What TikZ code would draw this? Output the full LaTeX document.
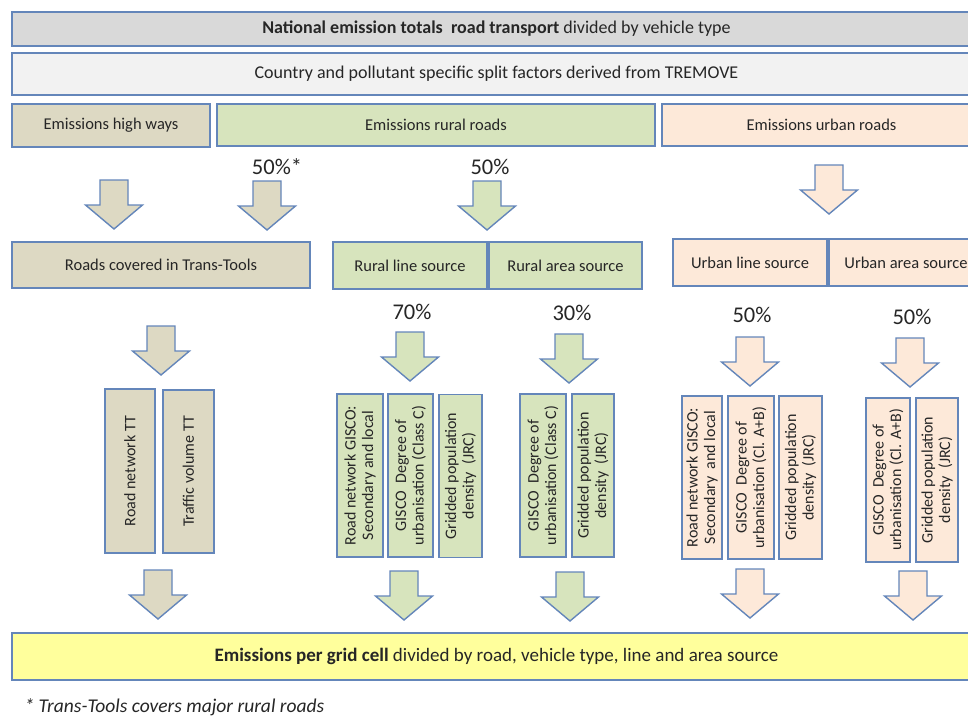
\documentclass[tikz,border=0pt]{standalone}
\usepackage{fontspec}
\setmainfont{Carlito}
\usetikzlibrary{backgrounds}
\definecolor{boxline}{HTML}{6486BA}
\definecolor{greybox}{HTML}{D9D9D9}
\definecolor{lightbox}{HTML}{F2F2F2}
\definecolor{tanbox}{HTML}{DDD9C3}
\definecolor{greenbox}{HTML}{D7E4BD}
\definecolor{peachbox}{HTML}{FDE9D9}
\definecolor{yellowbox}{HTML}{FFFF9C}
\tikzset{
    box/.style={draw=boxline, line width=1.4pt, inner sep=2pt, align=center, text=black!85, font=\fontsize{16.5}{19}\selectfont},
    widebox/.style={box, font=\fontsize{18}{21}\selectfont},
    vbox/.style={box, rotate=90, font=\fontsize{16}{17.5}\selectfont},
    pct/.style={text=black!85, font=\fontsize{22.5}{24}\selectfont}
}
% block arrow: fill colour, x of tip, y of top
\newcommand{\blockarrow}[3]{
    \filldraw[draw=boxline, line width=1.4pt, fill=#1] (#2-14,#3) -- (#2+14,#3) -- (#2+14,#3+25) -- (#2+28.5,#3+25)
        -- (#2,#3+49) -- (#2-28.5,#3+25) -- (#2-14,#3+25) -- cycle;
}

\begin{document}
\begin{tikzpicture}[x=1pt, y=-1pt]
    \useasboundingbox (0,0) rectangle (968,717);
    \clip (0,0) rectangle (968,717);
    \fill[white] (0,0) rectangle (968,717);

    % top rows
    \node[widebox, fill=greybox, minimum width=969, minimum height=34] (national) at (496.5,29)
        {\textbf{National emission totals\ \ road transport} divided by vehicle type};
    \node[widebox, fill=lightbox, minimum width=969, minimum height=42] (factors) at (496.5,74)
        {Country and pollutant specific split factors derived from TREMOVE};
    \node[box, fill=tanbox, minimum width=198, minimum height=43] (highways) at (111,125.5) {Emissions high ways};
    \node[box, fill=greenbox, minimum width=438, minimum height=42] (rural) at (436,125) {Emissions rural roads};
    \node[box, fill=peachbox, minimum width=319, minimum height=42] (urban) at (821.5,125) {Emissions urban roads};

    \node[pct] (pcthw) at (277,167) {50\%*};
    \node[pct] (pctrural) at (490,167) {50\%};
    \blockarrow{tanbox}{114}{180}
    \blockarrow{tanbox}{267}{181}
    \blockarrow{greenbox}{487}{181}
    \blockarrow{peachbox}{829}{165}

    % sources
    \node[box, fill=tanbox, minimum width=298, minimum height=46] (transtools) at (161,265) {Roads covered in Trans-Tools};
    \node[box, fill=greenbox, minimum width=154, minimum height=47] (ruralline) at (410,265.5) {Rural line source};
    \node[box, fill=greenbox, minimum width=153, minimum height=47] (ruralarea) at (565.5,265.5) {Rural area source};
    \node[box, fill=peachbox, minimum width=154, minimum height=47] (urbanline) at (750,262.5) {Urban line source};
    \node[box, fill=peachbox, minimum width=154, minimum height=47] (urbanarea) at (906,262.5) {Urban area source};

    \node[pct] (pctrl) at (412,312) {70\%};
    \node[pct] (pctra) at (572,313) {30\%};
    \node[pct] (pctul) at (752,315) {50\%};
    \node[pct] (pctua) at (912,317) {50\%};
    \blockarrow{tanbox}{161}{326}
    \blockarrow{greenbox}{410}{332}
    \blockarrow{greenbox}{569}{334}
    \blockarrow{peachbox}{750}{337}
    \blockarrow{peachbox}{910}{338}

    % proxies
    \node[vbox, fill=tanbox, minimum width=164, minimum height=50] (roadtt) at (130,471) {Road network TT};
    \node[vbox, fill=tanbox, minimum width=163, minimum height=51] (traffictt) at (188.5,471.5) {Traffic volume TT};
    \node[vbox, fill=greenbox, minimum width=163, minimum height=46] (rlroad) at (360,475.5) {Road network GISCO:\\Secondary and local};
    \node[vbox, fill=greenbox, minimum width=163, minimum height=45] (rldegree) at (410.5,475.5) {GISCO\ \ Degree of\\urbanisation (Class C)};
    \node[vbox, fill=greenbox, minimum width=163, minimum height=43] (rlpop) at (460.5,476) {Gridded population\\density\ \ (JRC)};
    \node[vbox, fill=greenbox, minimum width=163, minimum height=46] (radegree) at (543,475.5) {GISCO\ \ Degree of\\urbanisation (Class C)};
    \node[vbox, fill=greenbox, minimum width=163, minimum height=42] (rapop) at (593,475.5) {Gridded population\\density\ \ (JRC)};
    \node[vbox, fill=peachbox, minimum width=163, minimum height=40] (ulroad) at (702,477.5) {Road network GISCO:\\Secondary\ \ and local};
    \node[vbox, fill=peachbox, minimum width=163, minimum height=46] (uldegree) at (751,477.5) {GISCO\ \ Degree of\\urbanisation (Cl. A+B)};
    \node[vbox, fill=peachbox, minimum width=163, minimum height=43] (ulpop) at (800.5,477.5) {Gridded population\\density\ \ (JRC)};
    \node[vbox, fill=peachbox, minimum width=164, minimum height=44] (uadegree) at (888,480) {GISCO\ \ Degree of\\urbanisation (Cl. A+B)};
    \node[vbox, fill=peachbox, minimum width=164, minimum height=42] (uapop) at (937,480) {Gridded population\\density\ \ (JRC)};

    \blockarrow{tanbox}{158}{570}
    \blockarrow{greenbox}{404}{571}
    \blockarrow{greenbox}{570}{572}
    \blockarrow{peachbox}{750}{569}
    \blockarrow{peachbox}{913}{571}

    % result
    \node[box, fill=yellowbox, minimum width=969, minimum height=47, font=\fontsize{19}{21}\selectfont] (gridcell) at (496.5,656.5)
        {\textbf{Emissions per grid cell} divided by road, vehicle type, line and area source};
    \node[anchor=west, text=black!85, font=\fontsize{19.5}{21}\selectfont\itshape] (footnote) at (21,707)
        {* Trans-Tools covers major rural roads};
\end{tikzpicture}
\end{document}
